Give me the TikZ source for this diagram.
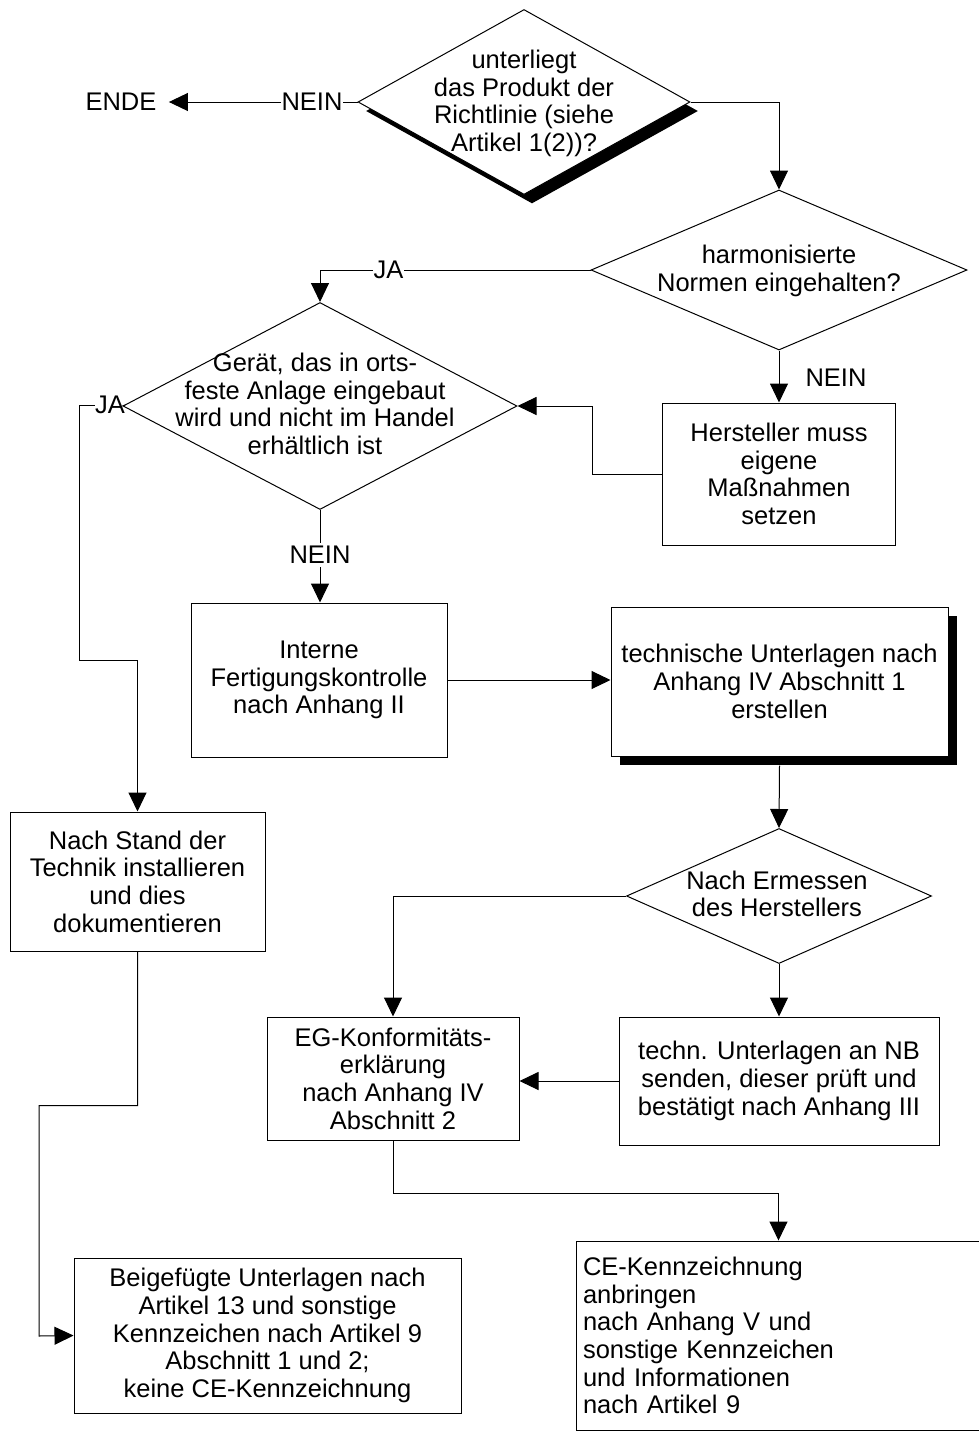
\documentclass[tikz,border=0pt]{standalone}
\usepackage{fontspec}
\setmainfont{Liberation Sans}
\usetikzlibrary{shapes.geometric,arrows.meta,calc}
\begin{document}
\begin{tikzpicture}[x=1pt,y=-1pt,
  font=\fontsize{25.5}{27.7}\selectfont,
  line width=1pt,
  dia/.style={diamond,draw,fill=white,inner sep=0pt},
  diashadow/.style={diamond,fill=black,inner sep=0pt},
  box/.style={rectangle,draw,fill=white,inner sep=0pt,align=center},
  boxshadow/.style={rectangle,fill=black,inner sep=0pt},
  txt/.style={align=center,inner sep=0pt},
  lbl/.style={inner sep=0pt},
  arr/.style={-{Triangle[length=19pt,width=18pt]}},
]
\fill[white] (0,0) rectangle (979,1432);
\useasboundingbox (0,0) rectangle (979,1432);

% ---- diamonds ----
\node[diashadow,minimum width=332pt,minimum height=185pt] (d1s) at (532,111) {};
\node[dia,minimum width=332pt,minimum height=185pt] (d1) at (524,102) {};
\node[txt] (d1t) at (524,103.5) {unterliegt\\das Produkt der\\Richtlinie (siehe\\Artikel 1(2))?};

\node[dia,minimum width=376pt,minimum height=160pt] (d2) at (779,270) {};
\node[txt] (d2t) at (779,271) {harmonisierte\\Normen eingehalten?};

\node[dia,minimum width=394pt,minimum height=207pt] (d3) at (320,406) {};
\node[txt] (d3t) at (315,404) {Gerät, das in orts-\\feste Anlage eingebaut\\wird und nicht im Handel\\erhältlich ist};

\node[dia,minimum width=305pt,minimum height=135pt] (d4) at (779,896) {};
\node[txt] (d4t) at (777,894) {Nach Ermessen\\des Herstellers};

% ---- boxes ----
\node[box,minimum width=233pt,minimum height=142pt] (b1) at (779,474) {Hersteller muss\\eigene\\Maßnahmen\\setzen};
\node[box,minimum width=256pt,minimum height=154pt] (b2) at (319,680) {Interne\\Fertigungskontrolle\\nach Anhang II};
\node[box,minimum width=255pt,minimum height=139pt] (b3) at (137.5,881.5) {Nach Stand der\\Technik installieren\\und dies\\dokumentieren};
\node[boxshadow,minimum width=337pt,minimum height=149pt] (b4s) at (788.5,690.5) {};
\node[box,minimum width=337pt,minimum height=149pt] (b4) at (779.5,681.5) {technische Unterlagen nach\\Anhang IV Abschnitt 1\\erstellen};
\node[box,minimum width=252pt,minimum height=123pt] (b5) at (393,1078.5) {EG-Konformitäts-\\erklärung\\nach Anhang IV\\Abschnitt 2};
\node[box,minimum width=320pt,minimum height=128pt] (b6) at (779,1081) {techn. Unterlagen an NB\\senden, dieser prüft und\\bestätigt nach Anhang III};
\node[box,align=left,text width=391pt,inner xsep=7pt,minimum height=189pt] (b7) at (778.5,1335.5) {CE-Kennzeichnung\\anbringen\\nach Anhang V und\\sonstige Kennzeichen\\und Informationen\\nach Artikel 9};
\node[box,minimum width=387pt,minimum height=155pt] (b8) at (267.5,1335.5) {Beigefügte Unterlagen nach\\Artikel 13 und sonstige\\Kennzeichen nach Artikel 9\\Abschnitt 1 und 2;\\keine CE-Kennzeichnung};

% ---- labels ----
\node[lbl] (ende) at (121,102) {ENDE};
\node[lbl] (n1) at (312,102) {NEIN};
\node[lbl] (ja1) at (388.5,270) {JA};
\node[lbl] (ja2) at (110,405) {JA};
\node[lbl,inner ysep=3pt] (n2) at (320,555) {NEIN};
\node[lbl] (n3) at (836,378) {NEIN};

% ---- connectors ----
\draw (d1.west) -- (n1.east);
\draw[arr] (n1.west) -- ([xshift=12pt]ende.east);
\draw[arr] (d1.east) -| (d2.north);
\draw (d2.west) -- (ja1.east);
\draw[arr] (ja1.west) -| (d3.north);
\draw[arr] (d2.south) -- (d2.south |- b1.north);
\draw[arr] (b1.west) -- ++(-70,0) |- (d3.east);
\draw (d3.west) -- (ja2.east);
\draw[arr] (ja2.west) -| (79,660) -| (b3.north);
\draw (d3.south) -- (d3.south |- n2.north);
\draw[arr] (n2.south) -- (n2.south |- b2.north);
\draw[arr] (b2.east) -- (b2.east -| b4.west);
\draw[arr] (b4s.south -| b4.south) -- (d4.north);
\draw[arr] (d4.west) -| (b5.north);
\draw[arr] (d4.south) -- (b6.north);
\draw[arr] (b6.west) -- (b6.west -| b5.east);
\draw[arr] (b5.south) -- ++(0,53) -| (b7.north);
\draw[arr] (b3.south) -- ++(0,154) -| (39,1336) -- (b8.west);
\end{tikzpicture}
\end{document}
